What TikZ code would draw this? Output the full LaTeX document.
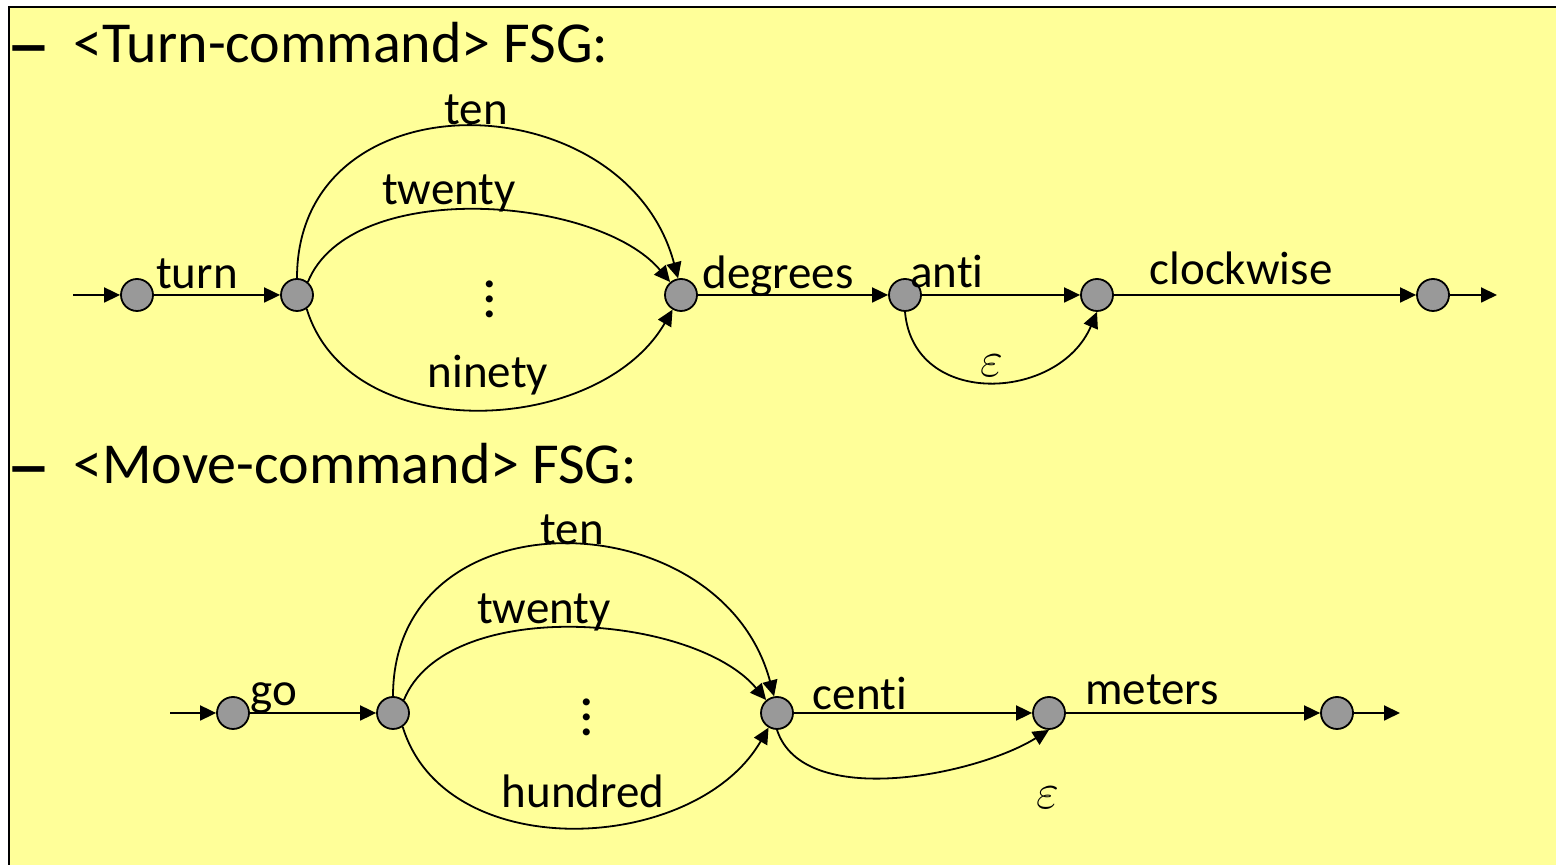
\documentclass[tikz,border=0pt]{standalone}
\usepackage{fontspec}
\setmainfont{Carlito}[Ligatures=NoCommon]
\usepackage{tikz}
\usetikzlibrary{arrows.meta}
\definecolor{slideyellow}{HTML}{FFFF99}
\definecolor{stategray}{HTML}{999999}

\begin{document}
\begin{tikzpicture}[
  x=0.5pt, y=0.5pt, >={Triangle[length=8pt,width=7.5pt]},
  state/.style={circle, draw=black, line width=0.9pt, fill=stategray, minimum size=16pt, inner sep=0pt},
  trans/.style={->, line width=0.9pt},
  lbl/.style={anchor=base, inner sep=0pt, font=\fontsize{23.5}{28}\selectfont},
  vdotsbox/.style={align=center, inner sep=0pt, font=\bfseries\fontsize{23.5}{7.5}\selectfont},
  head/.style={anchor=base west, inner sep=0pt, font=\fontsize{29}{34}\selectfont},
  dashmark/.style={head, font=\fontsize{45}{50}\selectfont},
]
\useasboundingbox (0,0) rectangle (1556,865);
% -- slide background and frame
\fill[slideyellow] (9,0) rectangle (1556,858);
\draw[line width=1.4pt] (9,0) -- (9,858) -- (1556,858);
% -- headings
\node[dashmark] (dashA) at (6,791) {–};
\node[head] (hturn) at (73,802) {<Turn-command> FSG:};
\node[dashmark] (dashB) at (6,370) {–};
\node[head] (hmove) at (73,381) {<Move-command> FSG:};
% -- turn command states
\coordinate (tin) at (73,570);
\node[state] (t0) at (137,570) {};
\node[state] (t1) at (297,570) {};
\node[state] (t2) at (681,570) {};
\node[state] (t3) at (905,570) {};
\node[state] (t4) at (1097,570) {};
\node[state] (t5) at (1433,570) {};
\coordinate (tout) at (1497,570);
% -- move command states
\coordinate (bin) at (170,152);
\node[state] (b0) at (233,152) {};
\node[state] (b1) at (393,152) {};
\node[state] (b2) at (777,152) {};
\node[state] (b3) at (1049,152) {};
\node[state] (b4) at (1337,152) {};
\coordinate (bout) at (1400,152);
% -- turn command transitions
\draw[trans] (tin) -- (t0);
\draw[trans] (t0) -- (t1);
\draw[trans] (t1.90) to[out=90, in=105, looseness=1.38] (t2.100);
\draw[trans] (t1.50) to[out=68, in=130, looseness=0.8] (t2.130);
\draw[trans] (t1.-55) to[out=-73, in=-120, looseness=1.02] (t2.-120);
\draw[trans] (t2) -- (t3);
\draw[trans] (t3) -- (t4);
\draw[trans] (t3.south) to[out=-85, in=-113, looseness=1.3] (t4.south);
\draw[trans] (t4) -- (t5);
\draw[trans] (t5) -- (tout);
% -- move command transitions
\draw[trans] (bin) -- (b0);
\draw[trans] (b0) -- (b1);
\draw[trans] (b1.90) to[out=90, in=105, looseness=1.38] (b2.100);
\draw[trans] (b1.50) to[out=68, in=130, looseness=0.8] (b2.130);
\draw[trans] (b1.-55) to[out=-73, in=-120, looseness=1.02] (b2.-120);
\draw[trans] (b2) -- (b3);
\draw[trans] (b2.south) to[out=-72, in=-148, looseness=0.8] (b3.south);
\draw[trans] (b3) -- (b4);
\draw[trans] (b4) -- (bout);
% -- turn command labels
\node[lbl] (lturn) at (197,576) {turn};
\node[lbl] (ltenA) at (476,740) {ten};
\node[lbl] (ltwentyA) at (449,660) {twenty};
\node[vdotsbox] (ldotsA) at (490,566) {.\\.\\.};
\node[lbl] (lninety) at (488,477) {ninety};
\node[lbl] (ldegrees) at (778,576) {degrees};
\node[lbl] (lanti) at (947,577) {anti};
\node[lbl] (lepsA) at (992,488) {$\varepsilon$};
\node[lbl] (lclockwise) at (1241,580) {clockwise};
% -- move command labels
\node[lbl] (lgo) at (274,159) {go};
\node[lbl] (ltenB) at (572,320) {ten};
\node[lbl] (ltwentyB) at (544,241) {twenty};
\node[vdotsbox] (ldotsB) at (587,148) {.\\.\\.};
\node[lbl] (lhundred) at (583,57) {hundred};
\node[lbl] (lcenti) at (860,155) {centi};
\node[lbl] (lepsB) at (1048,56) {$\varepsilon$};
\node[lbl] (lmeters) at (1152,160) {meters};
\end{tikzpicture}
\end{document}
